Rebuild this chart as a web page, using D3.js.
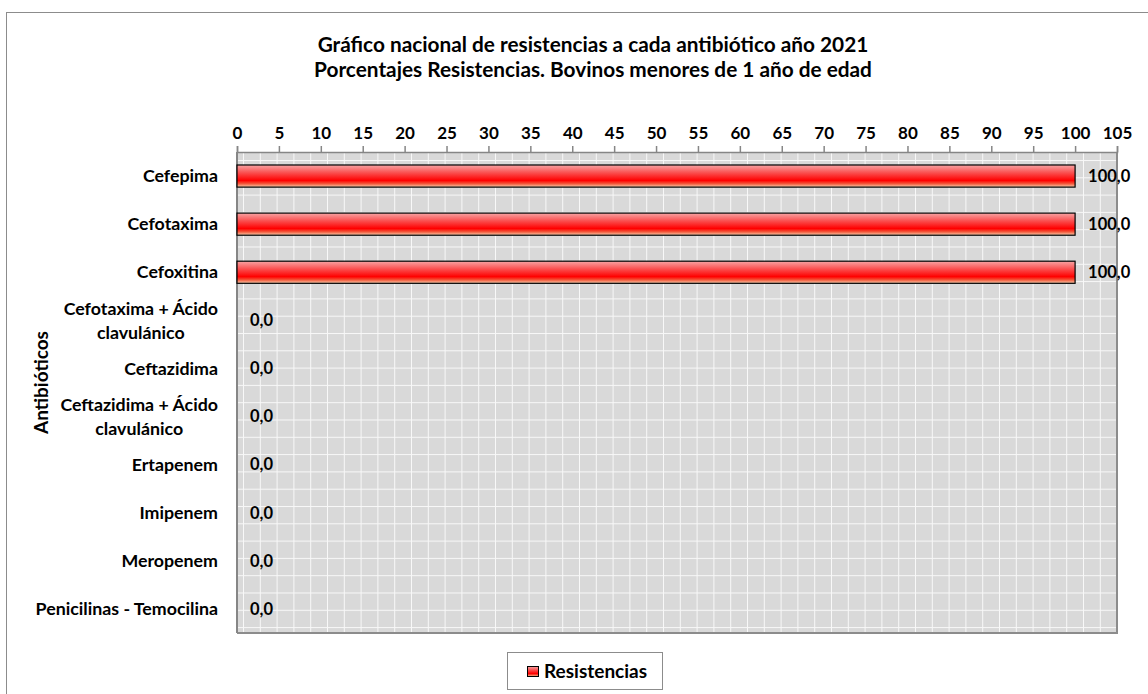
<!DOCTYPE html>
<html>
<head>
<meta charset="utf-8">
<title>Resistencias</title>
<script src="https://cdn.jsdelivr.net/npm/d3@7"></script>
<style>
  body { margin: 0; background: #fff; }
  svg text { font-family: Lato, "Liberation Sans", sans-serif; font-weight: bold; fill: #000; }
</style>
</head>
<body>
<div id="chart"></div>
<script>
var categories = ['Cefepima', 'Cefotaxima', 'Cefoxitina', 'Cefotaxima + Ácido|clavulánico',
  'Ceftazidima', 'Ceftazidima + Ácido|clavulánico', 'Ertapenem', 'Imipenem',
  'Meropenem', 'Penicilinas - Temocilina'];
var resistencias = [100, 100, 100, 0, 0, 0, 0, 0, 0, 0];
var xTicks = d3.range(0, 106, 5);
var titleLines = ['Gráfico nacional de resistencias a cada antibiótico año 2021',
  'Porcentajes Resistencias. Bovinos menores de 1 año de edad'];

var width = 1148, height = 694;
var margin = {top: 152, right: 31, bottom: 61, left: 237};

var svg = d3.select('#chart').append('svg')
  .attr('width', width).attr('height', height);

var defs = svg.append('defs');
var grad = defs.append('linearGradient').attr('id', 'barGrad')
  .attr('x1', 0).attr('y1', 0).attr('x2', 0).attr('y2', 1);
grad.append('stop').attr('offset', '0%').attr('stop-color', '#f7a4a4');
grad.append('stop').attr('offset', '35%').attr('stop-color', '#fa5050');
grad.append('stop').attr('offset', '70%').attr('stop-color', '#ff0000');
grad.append('stop').attr('offset', '85%').attr('stop-color', '#f25a3c');
grad.append('stop').attr('offset', '100%').attr('stop-color', '#fbd0b0');

var pat = defs.append('pattern').attr('id', 'gridPat')
  .attr('patternUnits', 'userSpaceOnUse')
  .attr('x', 243).attr('y', 160)
  .attr('width', 16.8).attr('height', 17.3);
pat.append('rect').attr('width', 16.8).attr('height', 17.3).attr('fill', '#d9d9d9');
pat.append('rect').attr('x', -1).attr('width', 2).attr('height', 17.3).attr('fill', '#f8f8f8');
pat.append('rect').attr('y', -1).attr('width', 16.8).attr('height', 2).attr('fill', '#f8f8f8');

// outer chart border
svg.append('rect')
  .attr('x', 6.5).attr('y', 12.5).attr('width', width).attr('height', height)
  .attr('fill', 'none').attr('stroke', '#8c8c8c');

var x = d3.scaleLinear().domain([0, 105])
  .range([margin.left, width - margin.right]);
var y = d3.scaleBand().domain(categories)
  .range([margin.top, height - margin.bottom])
  .paddingInner(0.54).paddingOuter(0.27);

// plot area
svg.append('rect')
  .attr('x', x(0)).attr('y', margin.top)
  .attr('width', x(105) - x(0)).attr('height', height - margin.bottom - margin.top)
  .attr('fill', 'url(#gridPat)');
// shadow on right and bottom
svg.append('path')
  .attr('d', 'M' + x(105) + ',' + margin.top + 'V' + (height - margin.bottom) + 'H' + x(0))
  .attr('fill', 'none').attr('stroke', '#8c8c8c').attr('stroke-width', 2);

// top axis
var xAxis = svg.append('g')
  .attr('transform', 'translate(0,' + margin.top + ')')
  .call(d3.axisTop(x).tickValues(xTicks).tickSize(6).tickPadding(7));
xAxis.select('.domain').attr('stroke', '#868686').attr('stroke-width', 1.5);
xAxis.selectAll('.tick line').attr('stroke', '#868686').attr('stroke-width', 1.5);
xAxis.selectAll('.tick text').attr('font-size', 17).attr('font-family', null)
  .attr('fill', '#000');

// left axis line
svg.append('line')
  .attr('x1', x(0)).attr('x2', x(0))
  .attr('y1', margin.top).attr('y2', height - margin.bottom)
  .attr('stroke', '#868686').attr('stroke-width', 2);

// category labels (wrapped lines centred on each other, block right-aligned)
var catLabels = svg.append('g').selectAll('text')
  .data(categories).enter().append('text')
  .attr('font-size', 17.8)
  .attr('text-anchor', 'middle')
  .attr('y', function(d) { return y(d) + y.bandwidth() / 2; });
catLabels.each(function(d) {
  var lines = d.split('|');
  var t = d3.select(this);
  lines.forEach(function(l, i) {
    t.append('tspan').text(l).attr('x', 0)
      .attr('dy', i === 0 ? ((0.35 - (lines.length - 1) * 0.675) + 'em') : '1.35em');
  });
  var w = this.getBBox().width;
  t.attr('x', 218 - w / 2);
  t.selectAll('tspan').attr('x', 218 - w / 2);
});

// bars
var rows = categories.map(function(c, i) { return {cat: c, value: resistencias[i]}; });
svg.append('g').selectAll('rect')
  .data(rows.filter(function(d) { return d.value > 0; }))
  .enter().append('rect')
  .attr('x', x(0))
  .attr('y', function(d) { return y(d.cat); })
  .attr('width', function(d) { return x(d.value) - x(0); })
  .attr('height', y.bandwidth())
  .attr('fill', 'url(#barGrad)')
  .attr('stroke', '#000').attr('stroke-width', 1.2);

// value labels
var fmt = function(v) { return v.toFixed(1).replace('.', ','); };
svg.append('g').selectAll('text')
  .data(rows).enter().append('text')
  .attr('x', function(d) { return x(d.value) + 13; })
  .attr('y', function(d) { return y(d.cat) + y.bandwidth() / 2; })
  .attr('dy', '0.35em')
  .attr('font-size', 16.5)
  .text(function(d) { return fmt(d.value); });

// titles
svg.append('g').selectAll('text')
  .data(titleLines).enter().append('text')
  .attr('x', 593).attr('y', function(d, i) { return 45 + i * 25; })
  .attr('dy', '0.35em')
  .attr('text-anchor', 'middle')
  .attr('font-size', 20.8)
  .text(function(d) { return d; });

svg.append('text')
  .attr('transform', 'translate(41,' + ((margin.top + height - margin.bottom) / 2 - 10) + ') rotate(-90)')
  .attr('text-anchor', 'middle').attr('dy', '0.35em')
  .attr('font-size', 19)
  .text('Antibióticos');

// legend
var legend = svg.append('g').attr('transform', 'translate(507,652)');
legend.append('rect')
  .attr('x', 0.5).attr('y', 0.5).attr('width', 155).attr('height', 37)
  .attr('fill', '#fff').attr('stroke', '#8c8c8c');
legend.append('rect')
  .attr('x', 20.5).attr('y', 14.5).attr('width', 11).attr('height', 10)
  .attr('fill', 'url(#barGrad)').attr('stroke', '#000');
legend.append('text')
  .attr('x', 37).attr('y', 19.5).attr('dy', '0.35em')
  .attr('font-size', 19)
  .text('Resistencias');
</script>
</body>
</html>
